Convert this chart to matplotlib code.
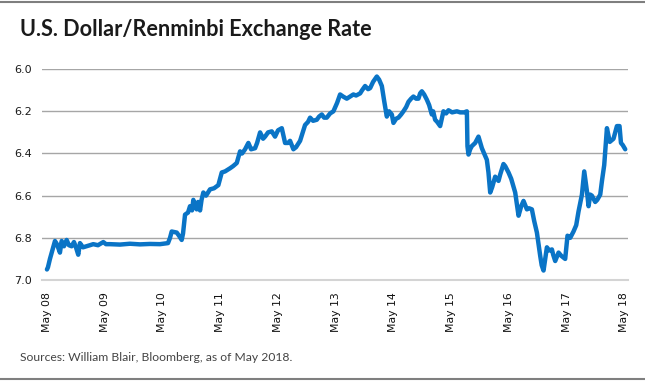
import numpy as np
import matplotlib
matplotlib.use("Agg")
import matplotlib.pyplot as plt

# years since May 2008 and USD/CNY rate
t_years = [0.0, 0.017, 0.052, 0.104, 0.139, 0.173, 0.225, 0.255, 0.295, 0.341,
           0.381, 0.428, 0.468, 0.503, 0.542, 0.572, 0.624, 0.688, 0.745, 0.802,
           0.884, 0.976, 1.023, 1.092, 1.265, 1.438, 1.612, 1.785, 1.958, 2.097,
           2.132, 2.161, 2.248, 2.288, 2.334, 2.357, 2.392, 2.444, 2.478, 2.513,
           2.536, 2.565, 2.594, 2.617, 2.652, 2.678, 2.709, 2.756, 2.825, 2.894,
           2.969, 3.028, 3.085, 3.172, 3.224, 3.288, 3.345, 3.380, 3.432, 3.489,
           3.536, 3.605, 3.640, 3.692, 3.744, 3.778, 3.830, 3.894, 3.951, 4.003,
           4.068, 4.125, 4.177, 4.211, 4.269, 4.315, 4.385, 4.471, 4.523, 4.558,
           4.610, 4.674, 4.714, 4.761, 4.801, 4.847, 4.905, 4.962, 5.026, 5.078,
           5.130, 5.194, 5.251, 5.308, 5.355, 5.425, 5.459, 5.511, 5.563, 5.598,
           5.650, 5.714, 5.754, 5.801, 5.841, 5.887, 5.927, 5.974, 6.002, 6.049,
           6.088, 6.135, 6.175, 6.222, 6.262, 6.308, 6.348, 6.395, 6.435, 6.464,
           6.494, 6.534, 6.581, 6.620, 6.667, 6.690, 6.724, 6.759, 6.811, 6.868,
           6.915, 6.955, 7.019, 7.101, 7.158, 7.227, 7.274, 7.284, 7.302, 7.331,
           7.360, 7.418, 7.475, 7.534, 7.574, 7.620, 7.648, 7.678, 7.712, 7.764,
           7.822, 7.851, 7.908, 7.938, 7.995, 8.042, 8.111, 8.169, 8.215, 8.255,
           8.314, 8.354, 8.400, 8.440, 8.487, 8.510, 8.544, 8.570, 8.602, 8.631,
           8.660, 8.700, 8.747, 8.769, 8.804, 8.862, 8.908, 8.977, 9.017, 9.064,
           9.121, 9.168, 9.208, 9.267, 9.307, 9.354, 9.382, 9.411, 9.440, 9.497,
           9.532, 9.584, 9.614, 9.653, 9.700, 9.749, 9.814, 9.873, 9.918, 9.943,
           9.974, 10.017]
rate = [6.95, 6.94, 6.90, 6.85, 6.815, 6.83, 6.87, 6.815, 6.84, 6.81,
        6.835, 6.84, 6.82, 6.845, 6.88, 6.825, 6.845, 6.84, 6.835, 6.83,
        6.835, 6.82, 6.83, 6.83, 6.832, 6.828, 6.831, 6.829, 6.83, 6.825,
        6.80, 6.77, 6.775, 6.79, 6.81, 6.78, 6.69, 6.68, 6.65, 6.67,
        6.62, 6.65, 6.665, 6.63, 6.67, 6.62, 6.585, 6.60, 6.57, 6.565,
        6.55, 6.49, 6.485, 6.47, 6.46, 6.445, 6.39, 6.40, 6.38, 6.35,
        6.38, 6.375, 6.35, 6.30, 6.33, 6.32, 6.30, 6.295, 6.32, 6.29,
        6.28, 6.35, 6.35, 6.34, 6.38, 6.37, 6.34, 6.265, 6.25, 6.23,
        6.245, 6.24, 6.225, 6.215, 6.23, 6.23, 6.21, 6.20, 6.16, 6.12,
        6.13, 6.14, 6.13, 6.12, 6.125, 6.115, 6.10, 6.08, 6.095, 6.09,
        6.06, 6.035, 6.05, 6.08, 6.15, 6.225, 6.20, 6.215, 6.255, 6.235,
        6.23, 6.215, 6.20, 6.18, 6.155, 6.14, 6.13, 6.14, 6.14, 6.115,
        6.105, 6.12, 6.145, 6.17, 6.215, 6.20, 6.24, 6.25, 6.27, 6.20,
        6.21, 6.195, 6.205, 6.20, 6.205, 6.205, 6.20, 6.365, 6.405, 6.38,
        6.365, 6.35, 6.32, 6.375, 6.40, 6.43, 6.49, 6.585, 6.56, 6.51,
        6.53, 6.50, 6.45, 6.46, 6.49, 6.52, 6.585, 6.695, 6.65, 6.625,
        6.665, 6.66, 6.665, 6.72, 6.775, 6.82, 6.885, 6.93, 6.955, 6.90,
        6.845, 6.86, 6.855, 6.88, 6.91, 6.87, 6.885, 6.90, 6.79, 6.80,
        6.77, 6.74, 6.675, 6.595, 6.485, 6.58, 6.65, 6.595, 6.60, 6.63,
        6.62, 6.595, 6.53, 6.455, 6.28, 6.345, 6.33, 6.27, 6.27, 6.35,
        6.36, 6.38]

tick_labels = ["May 08", "May 09", "May 10", "May 11", "May 12", "May 13",
               "May 14", "May 15", "May 16", "May 17", "May 18"]
y_ticks = [6.0, 6.2, 6.4, 6.6, 6.8, 7.0]

fig = plt.figure(figsize=(6.45, 3.82), dpi=100)
ax = fig.add_axes([0.065, 0.267, 0.909, 0.552])

ax.plot(t_years, rate, color="#0a74c6", lw=3.2, solid_joinstyle="round",
        solid_capstyle="round", zorder=3)

ax.set_ylim(7.0, 6.0)
ax.set_xlim(-0.087, 10.069)
ax.set_yticks(y_ticks)
ax.set_yticklabels([f"{v:.1f}" for v in y_ticks], fontsize=8,
                   family="DejaVu Sans", color="#1a1a1a")
ax.set_xticks(range(len(tick_labels)))
ax.set_xticklabels(tick_labels, rotation=90, fontsize=7.8, family="DejaVu Sans",
                   color="#111111")
ax.tick_params(axis="both", length=0)
ax.tick_params(axis="x", pad=9)
ax.tick_params(axis="y", pad=7)

ax.grid(axis="y", color="#a6a6a6", lw=1.0)
ax.set_axisbelow(True)
for s in ["top", "right", "left"]:
    ax.spines[s].set_visible(False)
ax.spines["bottom"].set_color("#d4d4d4")
ax.spines["bottom"].set_linewidth(1.5)

fig.text(0.031, 0.905, "U.S. Dollar/Renminbi Exchange Rate", fontsize=15.6,
         fontweight="bold", family="Lato", color="#1a1a1a", va="baseline")
fig.text(0.031, 0.055, "Sources: William Blair, Bloomberg, as of May 2018.",
         fontsize=8.7, family="Lato", color="#444444", va="baseline")

# frame rules at top and bottom
fig.add_artist(plt.Line2D([0, 1], [0.995, 0.995], color="#7f7f7f", lw=1.5,
                          transform=fig.transFigure))
fig.add_artist(plt.Line2D([0, 1], [0.007, 0.007], color="#7f7f7f", lw=1.5,
                          transform=fig.transFigure))

fig.savefig("out.png", dpi=100)
